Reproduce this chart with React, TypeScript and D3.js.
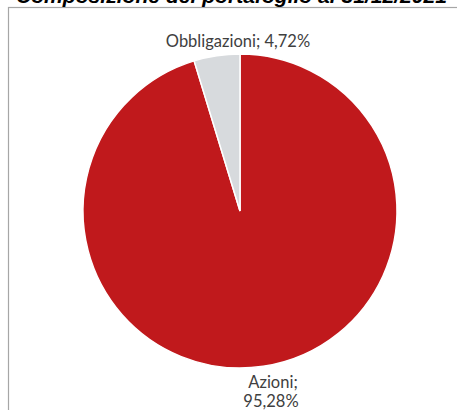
import React from "react";
import * as d3 from "d3";

const categories = ["Azioni", "Obbligazioni"];
const values = [95.28, 4.72];
const valueLabels = ["95,28%", "4,72%"];
const colors = ["#C0191C", "#D7DADD"];
const title = "Composizione del portafoglio al 31/12/2021";

export default function App() {
  const W = 457, H = 410;
  const cx = 240, cy = 211, r = 157;
  const pie = d3.pie<number>().sort(null).startAngle(0).endAngle(2 * Math.PI);
  const arcs = pie(values);
  const arc = d3.arc<d3.PieArcDatum<number>>().innerRadius(0).outerRadius(r);
  const labelFont = "Lato, Open Sans, Liberation Sans, sans-serif";
  return (
    <svg width={W} height={H} style={{ position: "absolute", left: 0, top: 0, background: "#fff" }}>
      <rect x={8.5} y={7.5} width={W} height={H} fill="#fff" stroke="#A6A6A6" strokeWidth={1.2} />
      <text x={16} y={3} fontFamily="Liberation Sans, Arial, sans-serif" fontWeight="bold" fontStyle="italic" fontSize={20} textLength={431} lengthAdjust="spacingAndGlyphs" fill="#000">{title}</text>
      <g transform={`translate(${cx},${cy})`}>
        {arcs.map((a, i) => (
          <path key={i} d={arc(a) || ""} fill={colors[i]} stroke="#fff" strokeWidth={1.5} />
        ))}
      </g>
      <text x={238} y={47} textAnchor="middle" fontFamily={labelFont} fontSize={16.5} fill="#404040">{`${categories[1]}; ${valueLabels[1]}`}</text>
      <text textAnchor="middle" fontFamily={labelFont} fontSize={16.5} fill="#404040">
        <tspan x={273} y={388}>{`${categories[0]};`}</tspan>
        <tspan x={271} y={407}>{valueLabels[0]}</tspan>
      </text>
    </svg>
  );
}
